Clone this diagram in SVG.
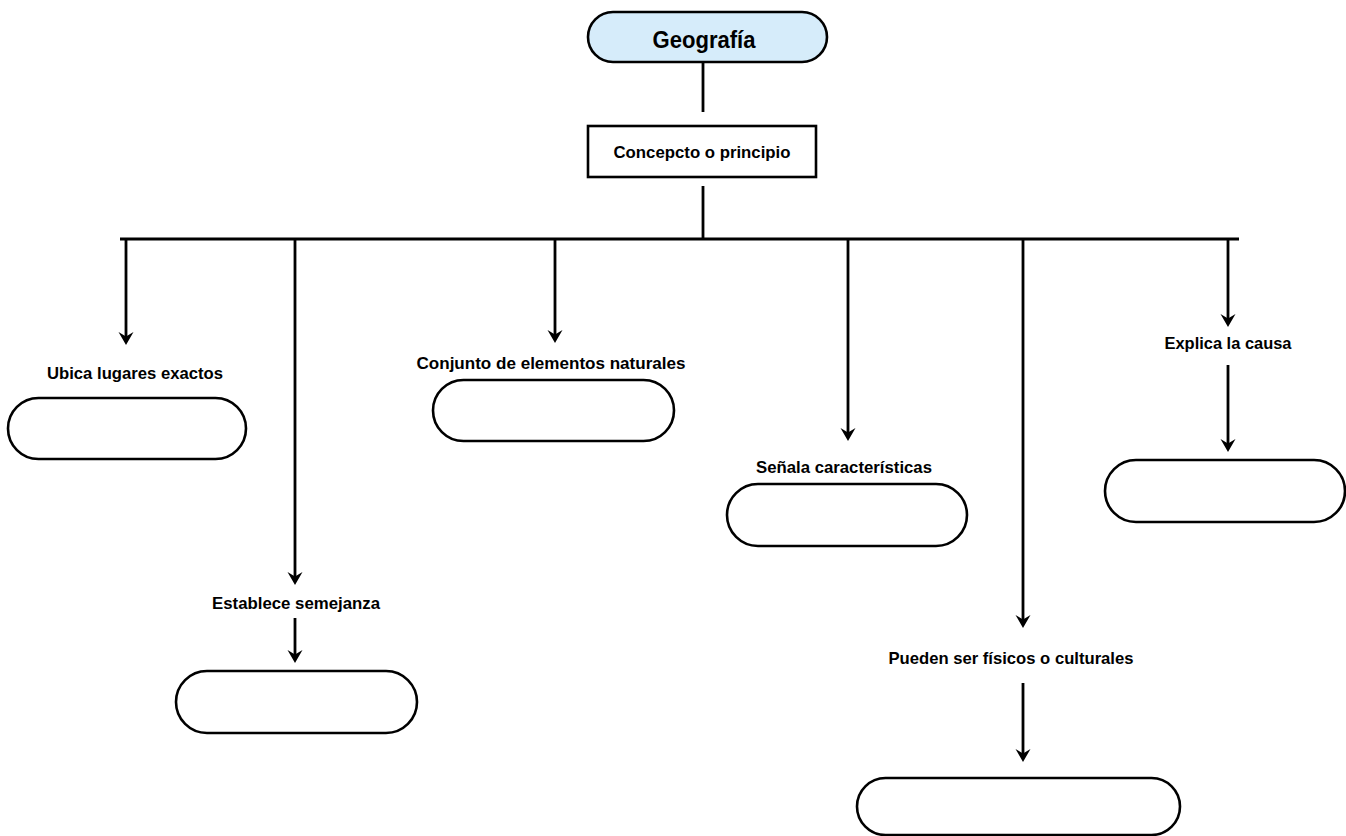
<svg xmlns="http://www.w3.org/2000/svg" width="1346" height="836" viewBox="0 0 1346 836">
<style>
.bg{fill:#ffffff}
.pill{fill:#ffffff;stroke:#000;stroke-width:2.6}
.top{fill:#d6ecfa;stroke:#000;stroke-width:2.6}
.box{fill:#ffffff;stroke:#000;stroke-width:2.6}
.ln{stroke:#000;stroke-width:2.8;fill:none}
.lbl{font-family:"Liberation Sans",Arial,sans-serif;font-weight:700;font-size:17px;fill:#000;text-anchor:middle}
.title{font-family:"Liberation Sans",Arial,sans-serif;font-weight:700;font-size:23px;fill:#000;text-anchor:middle}
</style>
<defs>
<marker id="ah" markerUnits="userSpaceOnUse" markerWidth="17" markerHeight="17" viewBox="-14 -8.5 15 17" refX="-5" refY="0" orient="auto">
<path d="M0,0 L-13,-7.5 L-8.5,0 L-13,7.5 Z" fill="#000"/>
</marker>
</defs>
<rect class="bg" x="0" y="0" width="1346" height="836"/>
<g id="connectors">
<line class="ln" x1="703" y1="62" x2="703" y2="112"/>
<line class="ln" x1="703" y1="186" x2="703" y2="239"/>
<line class="ln" x1="120" y1="239" x2="1239" y2="239"/>
<line class="ln" x1="126" y1="239" x2="126" y2="340" marker-end="url(#ah)"/>
<line class="ln" x1="295" y1="239" x2="295" y2="580" marker-end="url(#ah)"/>
<line class="ln" x1="295" y1="618" x2="295" y2="658" marker-end="url(#ah)"/>
<line class="ln" x1="555" y1="239" x2="555" y2="338" marker-end="url(#ah)"/>
<line class="ln" x1="848" y1="239" x2="848" y2="436" marker-end="url(#ah)"/>
<line class="ln" x1="1023" y1="239" x2="1023" y2="623" marker-end="url(#ah)"/>
<line class="ln" x1="1023" y1="683" x2="1023" y2="757" marker-end="url(#ah)"/>
<line class="ln" x1="1228" y1="239" x2="1228" y2="322" marker-end="url(#ah)"/>
<line class="ln" x1="1228" y1="365" x2="1228" y2="447" marker-end="url(#ah)"/>
</g>
<g id="geografia">
<rect class="top" x="588" y="12" width="239" height="50" rx="25" ry="25"/>
<text class="title" x="704" y="48" textLength="103" lengthAdjust="spacingAndGlyphs">Geografía</text>
</g>
<g id="concepto">
<rect class="box" x="588" y="126" width="228" height="51"/>
<text class="lbl" x="702" y="158" textLength="177" lengthAdjust="spacingAndGlyphs">Concepcto o principio</text>
</g>
<g id="ubica">
<text class="lbl" x="135" y="379" textLength="176" lengthAdjust="spacingAndGlyphs">Ubica lugares exactos</text>
<rect class="pill" x="8" y="398" width="238" height="61" rx="30.5" ry="30.5"/>
</g>
<g id="establece">
<text class="lbl" x="296" y="609" textLength="168" lengthAdjust="spacingAndGlyphs">Establece semejanza</text>
<rect class="pill" x="176" y="671" width="241" height="62" rx="31" ry="31"/>
</g>
<g id="conjunto">
<text class="lbl" x="551" y="369" textLength="269" lengthAdjust="spacingAndGlyphs">Conjunto de elementos naturales</text>
<rect class="pill" x="433" y="380" width="241" height="61" rx="30.5" ry="30.5"/>
</g>
<g id="senala">
<text class="lbl" x="844" y="473" textLength="176" lengthAdjust="spacingAndGlyphs">Señala características</text>
<rect class="pill" x="727" y="484" width="240" height="62" rx="31" ry="31"/>
</g>
<g id="pueden">
<text class="lbl" x="1011" y="664" textLength="245" lengthAdjust="spacingAndGlyphs">Pueden ser físicos o culturales</text>
<rect class="pill" x="857" y="778" width="323" height="57" rx="28.5" ry="28.5"/>
</g>
<g id="explica">
<text class="lbl" x="1228" y="349" textLength="127" lengthAdjust="spacingAndGlyphs">Explica la causa</text>
<rect class="pill" x="1105" y="460" width="240" height="62" rx="31" ry="31"/>
</g>
</svg>
